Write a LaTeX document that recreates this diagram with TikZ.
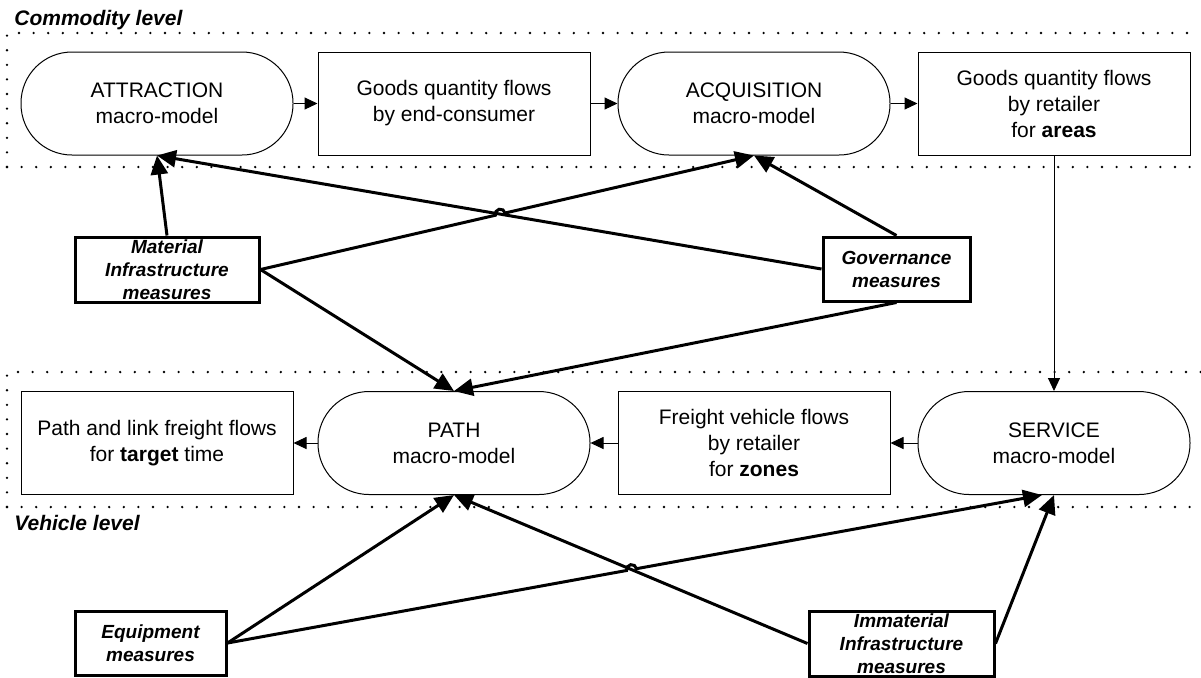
\documentclass[tikz,border=0pt]{standalone}
\usepackage{fontspec}
\setmainfont{Liberation Sans}
\usetikzlibrary{arrows.meta,calc,intersections}
\begin{document}
\begin{tikzpicture}[x=0.5pt,y=-0.5pt,
  stadium/.style={draw, line width=0.5pt, rounded corners=25.5pt, minimum width=136pt, minimum height=51.5pt, inner sep=0pt, align=center, font=\fontsize{10.5pt}{13pt}\selectfont},
  flowbox/.style={draw, line width=0.5pt, minimum width=136pt, minimum height=51.5pt, inner sep=0pt, align=center, font=\fontsize{10.5pt}{13pt}\selectfont},
  measure/.style={draw, line width=1.5pt, inner sep=0pt, align=center, font=\fontsize{9.5pt}{11.5pt}\selectfont\bfseries\itshape},
  thinarrow/.style={draw, line width=0.5pt, -{Triangle[length=6.5pt,width=6pt]}},
  thickarrow/.style={draw, line width=1.5pt, -{Triangle[length=9.5pt,width=8.5pt]}},
  levelborder/.style={line width=1.3pt, line cap=round, dash pattern=on 0pt off 7.3pt},
  levellabel/.style={anchor=base west, inner sep=0pt, font=\fontsize{10.5pt}{13pt}\selectfont\bfseries\itshape}
]
\useasboundingbox (0,0) rectangle (1201,677);
\fill[white] (0,0) rectangle (1201,677);

% level borders
\draw[levelborder] (7,167) -- (7,33) -- (1201,33);
\draw[levelborder] (7,167) -- (1201,167);
\draw[levelborder] (7,507) -- (7,372) -- (1201,372);
\draw[levelborder] (7,507) -- (1201,507);

\node[levellabel] (comm) at (14,25) {Commodity level};
\node[levellabel] (veh) at (14,530) {Vehicle level};

% top row
\node[stadium] (attr) at (157,103.5) {ATTRACTION\\macro-model};
\node[flowbox] (gqe) at (454,103.5) {Goods quantity flows\\by end-consumer};
\node[stadium] (acq) at (754,103.5) {ACQUISITION\\macro-model};
\node[flowbox] (gqr) at (1054,103.5) {Goods quantity flows\\by retailer\\for \textbf{areas}};

% bottom row
\node[flowbox] (plink) at (157,443) {Path and link freight flows\\for \textbf{target} time};
\node[stadium] (path) at (454,443) {PATH\\macro-model};
\node[flowbox] (fvf) at (754,443) {Freight vehicle flows\\by retailer\\for \textbf{zones}};
\node[stadium] (serv) at (1054,443) {SERVICE\\macro-model};

% measures
\node[measure, minimum width=92pt, minimum height=32.5pt] (mat) at (167,269.5) {Material\\Infrastructure\\measures};
\node[measure, minimum width=73.5pt, minimum height=32pt] (gov) at (896.5,269) {Governance\\measures};
\node[measure, minimum width=75.5pt, minimum height=32pt] (equ) at (150.5,643) {Equipment\\measures};
\node[measure, minimum width=92.5pt, minimum height=32.5pt] (imm) at (901.5,643.5) {Immaterial\\Infrastructure\\measures};

% thin flow arrows
\draw[thinarrow] (attr.east) -- (gqe.west);
\draw[thinarrow] (gqe.east) -- (acq.west);
\draw[thinarrow] (acq.east) -- (gqr.west);
\draw[thinarrow] (gqr.south) -- (serv.north);
\draw[thinarrow] (serv.west) -- (fvf.east);
\draw[thinarrow] (fvf.west) -- (path.east);
\draw[thinarrow] (path.west) -- (plink.east);

% thick measure arrows (top)
\draw[thickarrow] (mat.north) -- (attr.south);
\draw[thickarrow] (gov.west) -- (attr.south);
\draw[thickarrow] (gov.north) -- (acq.south);
\draw[thickarrow] (mat.east) -- (path.north);
\draw[thickarrow] (gov.south) -- (path.north);
\path[name path=mA] (mat.east) -- (acq.south);
\path[name path=gA] (gov.west) -- (attr.south);
\path[name intersections={of=mA and gA, by=hopA}];
\draw[thickarrow] let \p1=($(acq.south)-(mat.east)$), \n1={atan2(\y1,\x1)} in
  (mat.east) -- ($(hopA)!2.5pt!(mat.east)$) arc[start angle=\n1+180, delta angle=-180, radius=2.5pt] -- (acq.south);

% thick measure arrows (bottom)
\coordinate (servin) at ($(serv.south)+(-12,0)$);
\draw[thickarrow] (equ.east) -- (path.south);
\draw[thickarrow] (imm.west) -- (path.south);
\draw[thickarrow] (imm.east) -- (serv.south);
\path[name path=eS] (equ.east) -- (servin);
\path[name path=iP] (imm.west) -- (path.south);
\path[name intersections={of=eS and iP, by=hopB}];
\draw[thickarrow] let \p1=($(servin)-(equ.east)$), \n1={atan2(\y1,\x1)} in
  (equ.east) -- ($(hopB)!2.5pt!(equ.east)$) arc[start angle=\n1+180, delta angle=-180, radius=2.5pt] -- (servin);
\end{tikzpicture}
\end{document}
